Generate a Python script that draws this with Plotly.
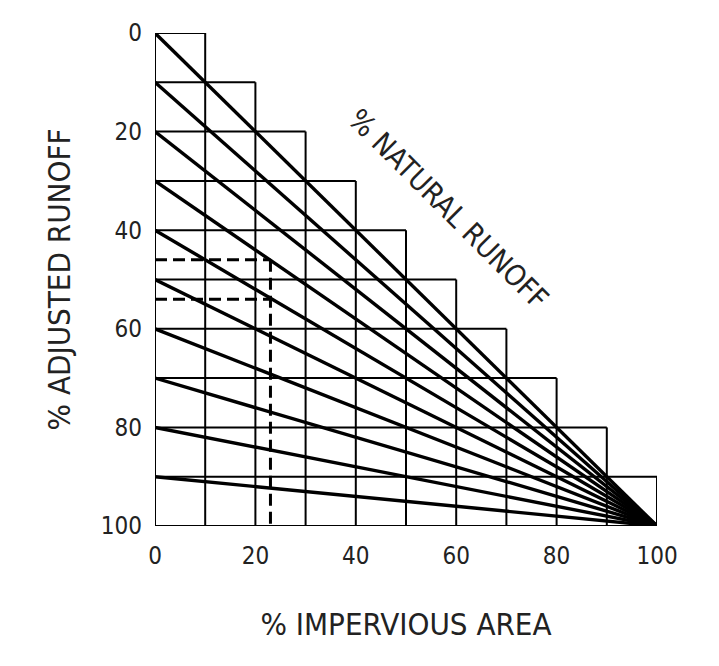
import plotly.graph_objects as go

# ---- data ----
tick_values = [0, 20, 40, 60, 80, 100]
tick_labels = ["0", "20", "40", "60", "80", "100"]
grid_steps = [0, 10, 20, 30, 40, 50, 60, 70, 80, 90, 100]
runoff_at_zero_impervious = [0, 10, 20, 30, 40, 50, 60, 70, 80, 90]
runoff_at_full_impervious = 100
example_impervious = 23
example_runoff = [46, 54]

FONT = "DejaVu Sans Condensed, Liberation Sans Narrow, Liberation Sans, Arial, sans-serif"
step = grid_steps[1] - grid_steps[0]
xmax = grid_steps[-1]

fig = go.Figure()

# staircase grid
for g in grid_steps:
    fig.add_trace(go.Scatter(x=[0, min(g + step, xmax)], y=[g, g], mode="lines",
                             line=dict(color="black", width=2), hoverinfo="skip", showlegend=False))
    fig.add_trace(go.Scatter(x=[g, g], y=[max(g - step, 0), xmax], mode="lines",
                             line=dict(color="black", width=2), hoverinfo="skip", showlegend=False))

# natural runoff lines
for r in runoff_at_zero_impervious:
    fig.add_trace(go.Scatter(x=[0, xmax], y=[r, runoff_at_full_impervious], mode="lines",
                             line=dict(color="black", width=3.4), hoverinfo="skip", showlegend=False))

# dashed example
for r in example_runoff:
    fig.add_trace(go.Scatter(x=[0, example_impervious], y=[r, r], mode="lines",
                             line=dict(color="black", width=3, dash="12px,6px"), hoverinfo="skip", showlegend=False))
fig.add_trace(go.Scatter(x=[example_impervious, example_impervious], y=[min(example_runoff), xmax], mode="lines",
                         line=dict(color="black", width=3, dash="12px,6px"), hoverinfo="skip", showlegend=False))

fig.add_annotation(x=58.4, y=35.8, xref="x", yref="y", text="% NATURAL RUNOFF", showarrow=False,
                   textangle=45, font=dict(family=FONT, size=29, color="#222"))

fig.update_layout(
    width=719, height=666,
    margin=dict(l=147, r=70, t=25, b=148),
    paper_bgcolor="white", plot_bgcolor="white",
    font=dict(family=FONT, color="#222"),
    xaxis=dict(range=[0, 100], tickvals=tick_values, ticktext=tick_labels, showgrid=False, zeroline=False,
               showline=False, ticks="", tickfont=dict(size=24), ticklabelstandoff=13,
               title=dict(text="% IMPERVIOUS AREA", font=dict(size=31), standoff=44)),
    yaxis=dict(range=[100, 0], tickvals=tick_values, ticktext=tick_labels, showgrid=False, zeroline=False,
               showline=False, ticks="", tickfont=dict(size=24), ticklabelstandoff=12,
               title=dict(text="% ADJUSTED RUNOFF", font=dict(size=31), standoff=20)),
)

fig.write_html("out.html")
